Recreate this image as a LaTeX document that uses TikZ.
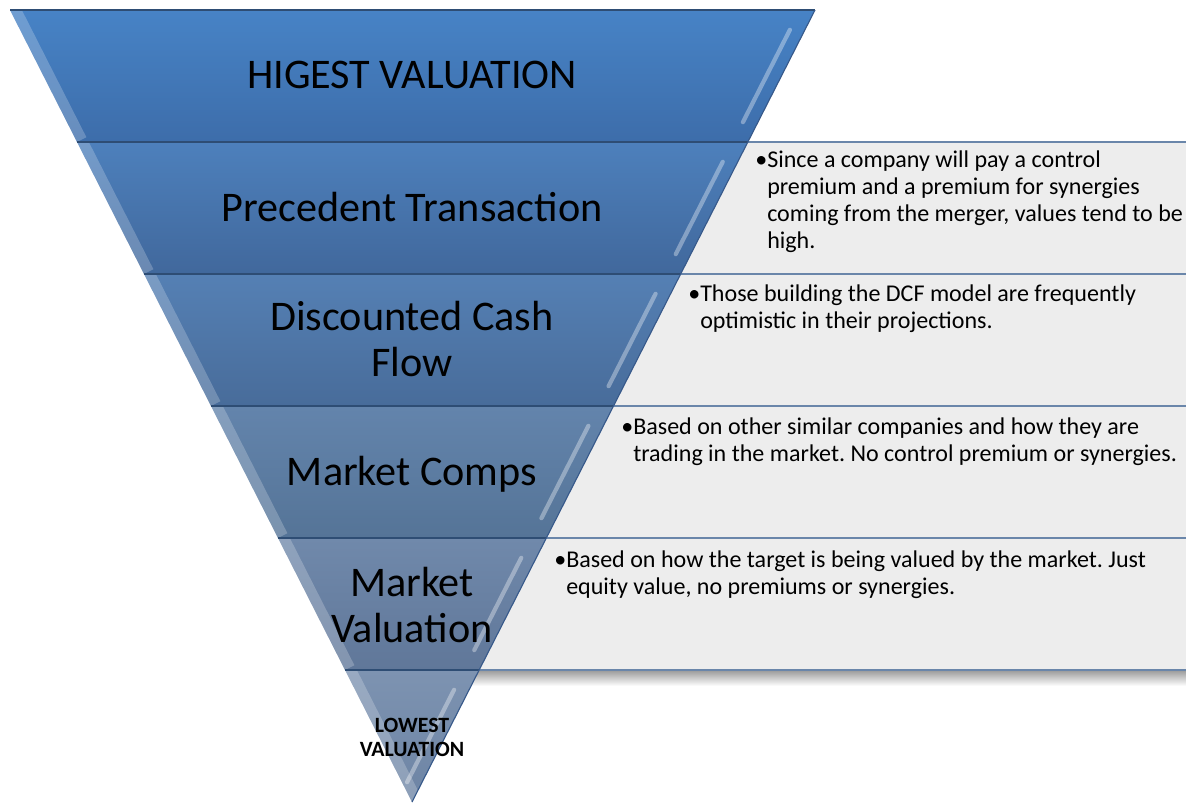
\documentclass[tikz,border=0pt]{standalone}
\usepackage{fontspec}
\setmainfont{Carlito}
\usetikzlibrary{calc}
\definecolor{bandAt}{HTML}{4783C6}\definecolor{bandAb}{HTML}{3D6DAA}
\definecolor{bandBt}{HTML}{4D80BC}\definecolor{bandBb}{HTML}{41689C}
\definecolor{bandCt}{HTML}{5580B4}\definecolor{bandCb}{HTML}{486C9A}
\definecolor{bandDt}{HTML}{6384AC}\definecolor{bandDb}{HTML}{557497}
\definecolor{bandEt}{HTML}{7089AB}\definecolor{bandEb}{HTML}{607799}
\definecolor{bandFt}{HTML}{7D93B1}\definecolor{bandFb}{HTML}{6D84A4}
\definecolor{sepblue}{HTML}{2E4D74}
\definecolor{rimblue}{HTML}{37598A}
\definecolor{notegrey}{HTML}{EDEDED}
\definecolor{noteline}{HTML}{6A86AA}
\newcommand\notelines[1]{•\begin{tabular}[t]{@{}l@{}}#1\end{tabular}}
\frenchspacing
\begin{document}
\begin{tikzpicture}[x=0.025cm,y=-0.025cm,
    bandtext/.style={font=\fontsize{30}{33}\selectfont,align=center},
    lowtext/.style={font=\bfseries\fontsize{15.5}{17}\selectfont,align=center},
    notetext/.style={font=\fontsize{17.1}{19.2}\selectfont,anchor=base west,
      inner sep=0pt},
    notebox/.style={fill=notegrey,draw=noteline,line width=1.3pt},
    bandsep/.style={sepblue,line width=1pt},
    bevel/.style={white,opacity=0.22,line width=15pt},
    glint/.style={white,opacity=0.35,line width=3pt,line cap=round}]
  \useasboundingbox (0,0) rectangle (1186,804);
  \clip (0,0) rectangle (1186,804);
  \coordinate (TL) at (10,10);
  \coordinate (TR) at (815,10);
  \coordinate (AP) at (412,802);
  \coordinate (R) at (1200,0);
  \foreach \i in {0,...,6} {
    \coordinate (a\i) at ($(TL)!\i/6!(AP)$);
    \coordinate (b\i) at ($(TR)!\i/6!(AP)$);
  }
  % note boxes behind the funnel
  \shade[top color=black!40,bottom color=white] (440,670) rectangle (1200,686);
  \foreach \i/\j in {1/2,2/3,3/4,4/5}
    \filldraw[notebox] ($(b\j |- b\i)+(-8,0)$) rectangle (R |- b\j);
  % funnel bands
  \foreach \i/\j/\ct/\cb in {0/1/bandAt/bandAb,1/2/bandBt/bandBb,2/3/bandCt/bandCb,
      3/4/bandDt/bandDb,4/5/bandEt/bandEb,5/6/bandFt/bandFb} {
    \begin{scope}
      \clip (a\i) -- (b\i) -- (b\j) -- (a\j) -- cycle;
      \shade[top color=\ct,bottom color=\cb] (a\i) rectangle (b\i |- a\j);
      \draw[bevel] (a\i) -- (a\j);
      \draw[glint] ($(b\i)!0.15!(b\j)+(-15,0)$) -- ($(b\i)!0.85!(b\j)+(-15,0)$);
    \end{scope}
    \draw[bandsep] (a\i) -- (b\i);
  }
  \draw[rimblue,line width=0.8pt] (TR) -- (AP);
  \node[bandtext] (hival) at (412,75) {HIGEST VALUATION};
  \node[bandtext] (prec) at (412,207) {Precedent Transaction};
  \node[bandtext] (dcf) at (412,339) {Discounted Cash\\Flow};
  \node[bandtext] (comps) at (412,474) {Market Comps};
  \node[bandtext] (mval) at (412,605) {Market\\Valuation};
  \node[lowtext] (low) at (412,737) {LOWEST\\VALUATION};
  \node[notetext] (precnote) at (755,167) {\notelines{Since a company will pay a control\\premium and a premium for synergies\\coming from the merger, values tend to be\\high.}};
  \node[notetext] (dcfnote) at (688,301) {\notelines{Those building the DCF model are frequently\\optimistic in their projections.}};
  \node[notetext] (compsnote) at (621,434) {\notelines{Based on other similar companies and how they are\\trading in the market. No control premium or synergies.}};
  \node[notetext] (mvalnote) at (554,567) {\notelines{Based on how the target is being valued by the market. Just\\equity value, no premiums or synergies.}};
\end{tikzpicture}
\end{document}
